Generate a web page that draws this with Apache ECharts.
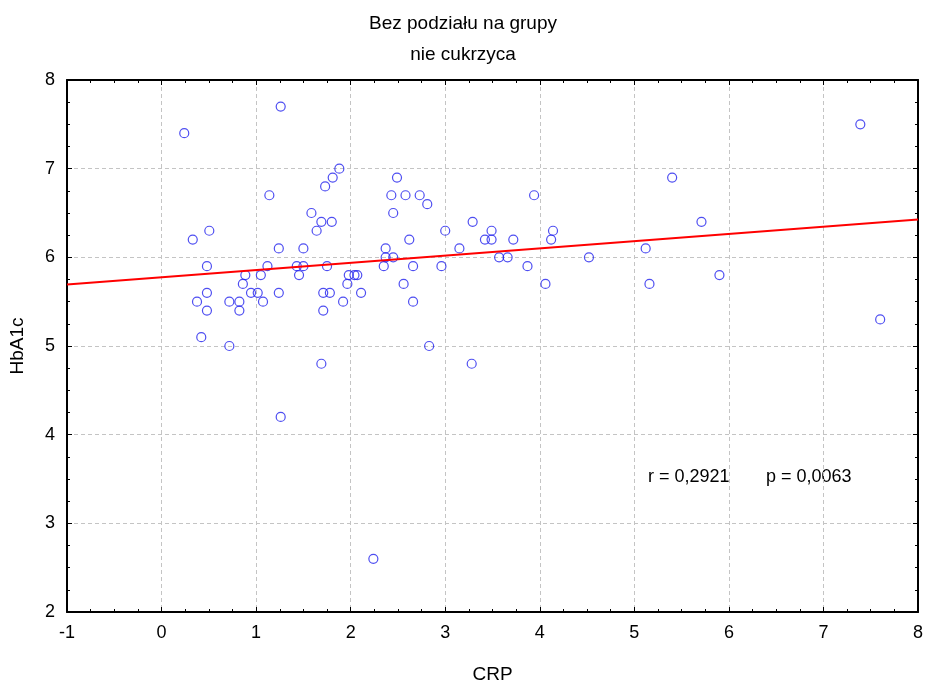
<!DOCTYPE html>
<html><head><meta charset="utf-8">
<script src="https://cdn.jsdelivr.net/npm/echarts@6/dist/echarts.min.js"></script>
<style>html,body{margin:0;padding:0;background:#fff}#c{width:926px;height:684px}</style>
</head><body><div id="c"></div>
<script>
var crp = [0.24,1.26,1.88,1.81,1.73,1.14,1.585,1.69,1.80,1.64,0.33,0.505,1.24,1.50,0.48,1.12,1.43,1.50,1.75,0.886,1.05,1.454,1.98,2.04,2.07,0.86,1.965,0.48,0.946,1.017,1.24,1.71,1.78,2.11,0.375,0.717,0.823,1.073,1.92,0.48,0.823,1.71,0.42,0.717,2.49,2.43,2.58,2.73,2.81,3.94,2.45,3.29,3.00,3.49,4.14,2.62,3.42,3.49,3.72,4.12,2.37,3.15,2.37,2.45,3.57,3.66,4.52,2.35,2.66,2.96,3.87,2.56,4.06,2.66,2.83,1.69,3.28,1.26,2.24,5.12,5.16,5.40,5.71,5.90,7.39,7.60];
var hba1c = [7.4,7.7,7.0,6.9,6.8,6.7,6.5,6.4,6.4,6.3,6.2,6.3,6.1,6.1,5.9,5.9,5.9,5.9,5.9,5.8,5.8,5.8,5.8,5.8,5.8,5.7,5.7,5.6,5.6,5.6,5.6,5.6,5.6,5.6,5.5,5.5,5.5,5.5,5.5,5.4,5.4,5.4,5.1,5.0,6.9,6.7,6.7,6.7,6.6,6.7,6.5,6.4,6.3,6.3,6.3,6.2,6.2,6.2,6.2,6.2,6.1,6.1,6.0,6.0,6.0,6.0,6.0,5.9,5.9,5.9,5.9,5.7,5.7,5.5,5.0,4.8,4.8,4.2,2.6,6.1,5.7,6.9,6.4,5.8,7.5,5.3];
var fitIntercept = 5.775, fitSlope = 0.0815;
var xRange = [-1, 8], yRange = [2, 8];
var titleLines = ["Bez podziału na grupy", "nie cukrzyca"];
var statsTexts = ["r = 0,2921", "p = 0,0063"];

var pts = crp.map(function(x,i){return [x,hba1c[i]];});
var fitLine = xRange.map(function(x){return [x, fitIntercept + fitSlope*x];});
var FONT = "Liberation Sans, Arial, sans-serif";
var chart = echarts.init(document.getElementById('c'));
function axisBase(extra){
  return Object.assign({
    axisLine:{show:true,onZero:false,lineStyle:{color:'#000',width:2}},
    axisTick:{show:true,inside:true,length:5,lineStyle:{color:'#000',width:1}},
    minorTick:{show:true,splitNumber:4,length:3,lineStyle:{color:'#000',width:1}}
  }, extra);
}
var tStyle = {fontFamily:FONT,fontWeight:'normal',fontSize:19,color:'#000'};
chart.setOption({
  animation:false,
  backgroundColor:'#fff',
  title:[{text:titleLines[0],left:'center',top:9,textStyle:tStyle},
         {text:titleLines[1],left:'center',top:40,textStyle:tStyle}],
  grid:{left:67,right:8,top:80,bottom:72,containLabel:false,outerBoundsMode:'none'},
  xAxis:[axisBase({type:'value',min:xRange[0],max:xRange[1],interval:1,position:'bottom',
      name:'CRP',nameLocation:'middle',nameGap:53,nameTextStyle:{fontFamily:FONT,fontSize:19,color:'#000'},
      axisLabel:{fontFamily:FONT,fontSize:18,color:'#000',margin:12},
      splitLine:{show:true,lineStyle:{color:'#c4c4c4',type:[4,3],width:1}}}),
    axisBase({type:'value',min:xRange[0],max:xRange[1],interval:1,position:'top',
      axisLabel:{show:false},splitLine:{show:false}})],
  yAxis:[axisBase({type:'value',min:yRange[0],max:yRange[1],interval:1,position:'left',
      name:'HbA1c',nameLocation:'middle',nameGap:40,nameTextStyle:{fontFamily:FONT,fontSize:19,color:'#000'},
      axisLabel:{fontFamily:FONT,fontSize:18,color:'#000',margin:12},
      splitLine:{show:true,lineStyle:{color:'#c4c4c4',type:[4,3],width:1}}}),
    axisBase({type:'value',min:yRange[0],max:yRange[1],interval:1,position:'right',
      axisLabel:{show:false},splitLine:{show:false}})],
  series:[
    {type:'scatter',data:pts,symbol:'circle',symbolSize:9,
     itemStyle:{color:'rgba(0,0,0,0)',borderColor:'#2222ee',borderWidth:1.2},z:3},
    {type:'line',data:fitLine,showSymbol:false,symbol:'none',lineStyle:{color:'#ff0000',width:2.2},z:4}
  ],
  graphic:[{type:'text',left:648,top:468,style:{text:statsTexts[0],fontFamily:FONT,fontSize:18,fill:'#000'}},
           {type:'text',left:766,top:468,style:{text:statsTexts[1],fontFamily:FONT,fontSize:18,fill:'#000'}}]
});
</script></body></html>
